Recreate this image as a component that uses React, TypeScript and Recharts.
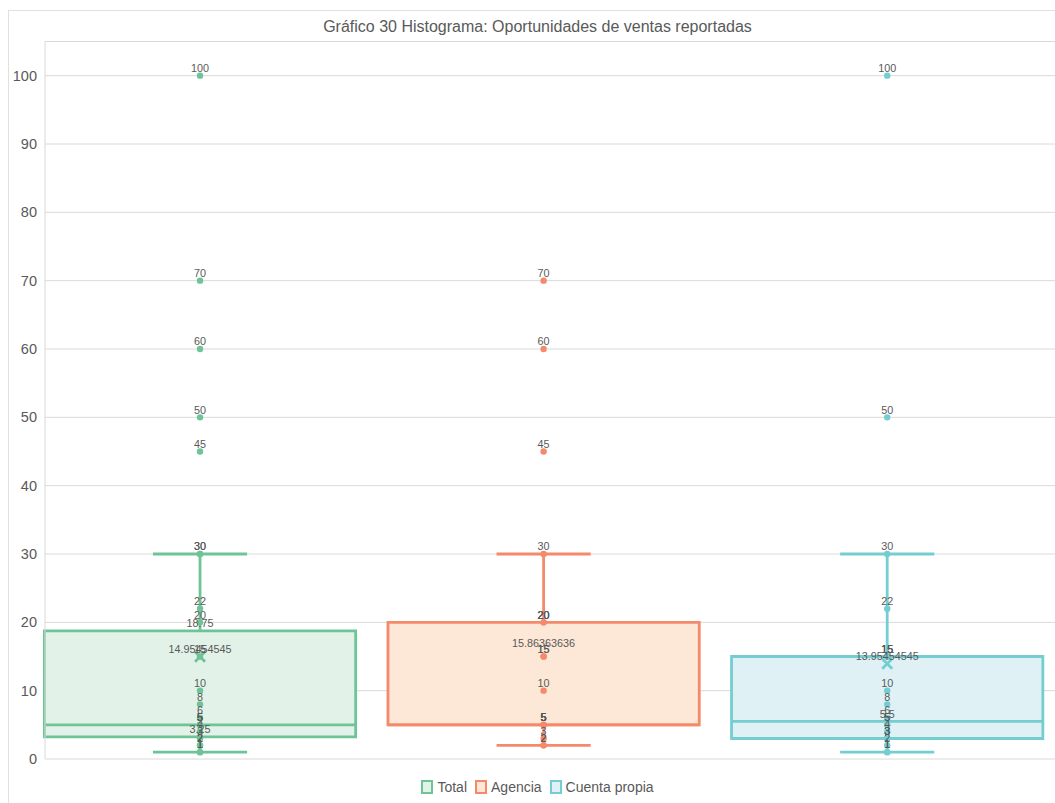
import React from 'react';
import {
  ComposedChart,
  XAxis,
  YAxis,
  CartesianGrid,
  ReferenceArea,
  ReferenceLine,
  Scatter,
} from 'recharts';

// Categories and raw observations per group
const categories = ['Total', 'Agencia', 'Cuenta propia'];
const totalValues = [1, 1, 2, 2, 3, 4, 5, 5, 5, 6, 8, 10, 15, 20, 22, 30, 30, 45, 50, 60, 70, 100];
const agenciaValues = [2, 2, 3, 5, 5, 5, 5, 10, 15, 15, 20, 20, 30, 45, 60, 70];
const cuentaPropiaValues = [1, 1, 2, 3, 3, 4, 5, 5, 6, 8, 10, 15, 15, 22, 30, 50, 100];

// Box statistics per group
const q1Values = [3.25, 5, 3];
const medianValues = [5, 5, 5.5];
const q3Values = [18.75, 20, 15];
const whiskerLow = [1, 2, 1];
const whiskerHigh = [30, 30, 30];
const meanValues = [14.95454545, 15.86363636, 13.95454545];
const meanMarkerShown = [true, false, true];

const yTicks = [0, 10, 20, 30, 40, 50, 60, 70, 80, 90, 100];

const strokeColors = ['#6FC497', '#F48A6B', '#74CDD0'];
const fillColors = ['#E2F2E8', '#FDE8D7', '#DFF1F5'];
const labelColor = '#595959';
const fontFamily = '"Liberation Sans", Arial, Helvetica, sans-serif';

const BOX_HALF = 0.453;
const CAP_HALF = 0.137;
const LINE_W = 2.8;

const groupValues = [totalValues, agenciaValues, cuentaPropiaValues];

const pointData = groupValues.map((vals, i) => vals.map((v) => ({ x: i, y: v, label: String(v) })));
const statLabelData = categories.map((_, i) => [
  { x: i, y: q1Values[i], label: String(q1Values[i]) },
  { x: i, y: medianValues[i], label: String(medianValues[i]) },
  { x: i, y: q3Values[i], label: String(q3Values[i]) },
  { x: i, y: meanValues[i], label: String(meanValues[i]) },
]);
const meanData = categories.map((_, i) => (meanMarkerShown[i] ? [{ x: i, y: meanValues[i] }] : []));

const LabelShape = (p: any) => (
  <text
    x={p.cx}
    y={p.cy - 7.5}
    dy="0.35em"
    textAnchor="middle"
    fontSize={10.8}
    fill={labelColor}
    fontFamily={fontFamily}
  >
    {p.payload.label}
  </text>
);

export default function App() {
  return (
    <div style={{ position: 'relative', width: 1055, height: 803, overflow: 'hidden', background: '#fff', fontFamily }}>
      <style>{'body{margin:0;overflow:hidden;}'}</style>
      <div
        style={{
          position: 'absolute',
          left: 8,
          top: 10,
          width: 1100,
          height: 900,
          border: '1px solid #E0E0E0',
          boxSizing: 'border-box',
        }}
      />
      <div
        style={{
          position: 'absolute',
          left: 8,
          top: 18,
          width: 1059,
          textAlign: 'center',
          fontSize: 16,
          lineHeight: '18px',
          color: labelColor,
        }}
      >
        Gráfico 30 Histograma: Oportunidades de ventas reportadas
      </div>
      <div style={{ position: 'absolute', left: 0, top: 0 }}>
        <ComposedChart width={1059} height={803} margin={{ top: 41.5, right: 0, bottom: 44, left: 8 }}>
          <CartesianGrid horizontal vertical={false} stroke="#DADADA" strokeWidth={1} />
          <XAxis type="number" dataKey="x" domain={[-0.4512, 2.5]} allowDataOverflow hide />
          <YAxis
            type="number"
            dataKey="y"
            domain={[0, 105]}
            ticks={yTicks}
            allowDataOverflow
            width={37}
            tickSize={0}
            tickMargin={8}
            tickLine={false}
            axisLine={{ stroke: '#DADADA' }}
            tick={{ fill: labelColor, fontSize: 14.5, fontFamily }}
          />
          {categories.map((c, i) => (
            <ReferenceArea
              key={`box-${c}`}
              x1={i - BOX_HALF}
              x2={i + BOX_HALF}
              y1={q1Values[i]}
              y2={q3Values[i]}
              fill={fillColors[i]}
              fillOpacity={1}
              stroke={strokeColors[i]}
              strokeWidth={LINE_W}
              ifOverflow="visible"
            />
          ))}
          {categories.map((c, i) => (
            <ReferenceLine
              key={`median-${c}`}
              segment={[
                { x: i - BOX_HALF, y: medianValues[i] },
                { x: i + BOX_HALF, y: medianValues[i] },
              ]}
              stroke={strokeColors[i]}
              strokeWidth={LINE_W}
              ifOverflow="visible"
            />
          ))}
          {categories.map((c, i) => (
            <ReferenceLine
              key={`wl-${c}`}
              segment={[
                { x: i, y: whiskerLow[i] },
                { x: i, y: q1Values[i] },
              ]}
              stroke={strokeColors[i]}
              strokeWidth={LINE_W}
              ifOverflow="visible"
            />
          ))}
          {categories.map((c, i) => (
            <ReferenceLine
              key={`wh-${c}`}
              segment={[
                { x: i, y: q3Values[i] },
                { x: i, y: whiskerHigh[i] },
              ]}
              stroke={strokeColors[i]}
              strokeWidth={LINE_W}
              ifOverflow="visible"
            />
          ))}
          {categories.map((c, i) => (
            <ReferenceLine
              key={`capl-${c}`}
              segment={[
                { x: i - CAP_HALF, y: whiskerLow[i] },
                { x: i + CAP_HALF, y: whiskerLow[i] },
              ]}
              stroke={strokeColors[i]}
              strokeWidth={LINE_W}
              ifOverflow="visible"
            />
          ))}
          {categories.map((c, i) => (
            <ReferenceLine
              key={`caph-${c}`}
              segment={[
                { x: i - CAP_HALF, y: whiskerHigh[i] },
                { x: i + CAP_HALF, y: whiskerHigh[i] },
              ]}
              stroke={strokeColors[i]}
              strokeWidth={LINE_W}
              ifOverflow="visible"
            />
          ))}
          {categories.map((c, i) => (
            <Scatter
              key={`pts-${c}`}
              name={c}
              data={pointData[i]}
              isAnimationActive={false}
              shape={(p: any) => <circle cx={p.cx} cy={p.cy} r={3.2} fill={strokeColors[i]} />}
            />
          ))}
          {categories.map((c, i) => (
            <Scatter
              key={`mean-${c}`}
              data={meanData[i]}
              isAnimationActive={false}
              shape={(p: any) => (
                <path
                  d={`M${p.cx - 5},${p.cy - 5}L${p.cx + 5},${p.cy + 5}M${p.cx - 5},${p.cy + 5}L${p.cx + 5},${p.cy - 5}`}
                  stroke={strokeColors[i]}
                  strokeWidth={2.8}
                  fill="none"
                />
              )}
            />
          ))}
          {categories.map((c, i) => (
            <Scatter key={`plab-${c}`} data={pointData[i]} isAnimationActive={false} shape={LabelShape} />
          ))}
          {categories.map((c, i) => (
            <Scatter key={`slab-${c}`} data={statLabelData[i]} isAnimationActive={false} shape={LabelShape} />
          ))}
        </ComposedChart>
      </div>
      <div
        style={{
          position: 'absolute',
          left: 8,
          top: 779,
          width: 1059,
          display: 'flex',
          justifyContent: 'center',
          alignItems: 'center',
          fontSize: 14,
          lineHeight: '16px',
          color: labelColor,
        }}
      >
        {categories.map((c, i) => (
          <div key={c} style={{ display: 'flex', alignItems: 'center', marginRight: i < categories.length - 1 ? 8 : 0 }}>
            <span
              style={{
                display: 'inline-block',
                width: 8,
                height: 10,
                border: `2px solid ${strokeColors[i]}`,
                background: fillColors[i],
                marginRight: 4,
              }}
            />
            <span>{c}</span>
          </div>
        ))}
      </div>
    </div>
  );
}
